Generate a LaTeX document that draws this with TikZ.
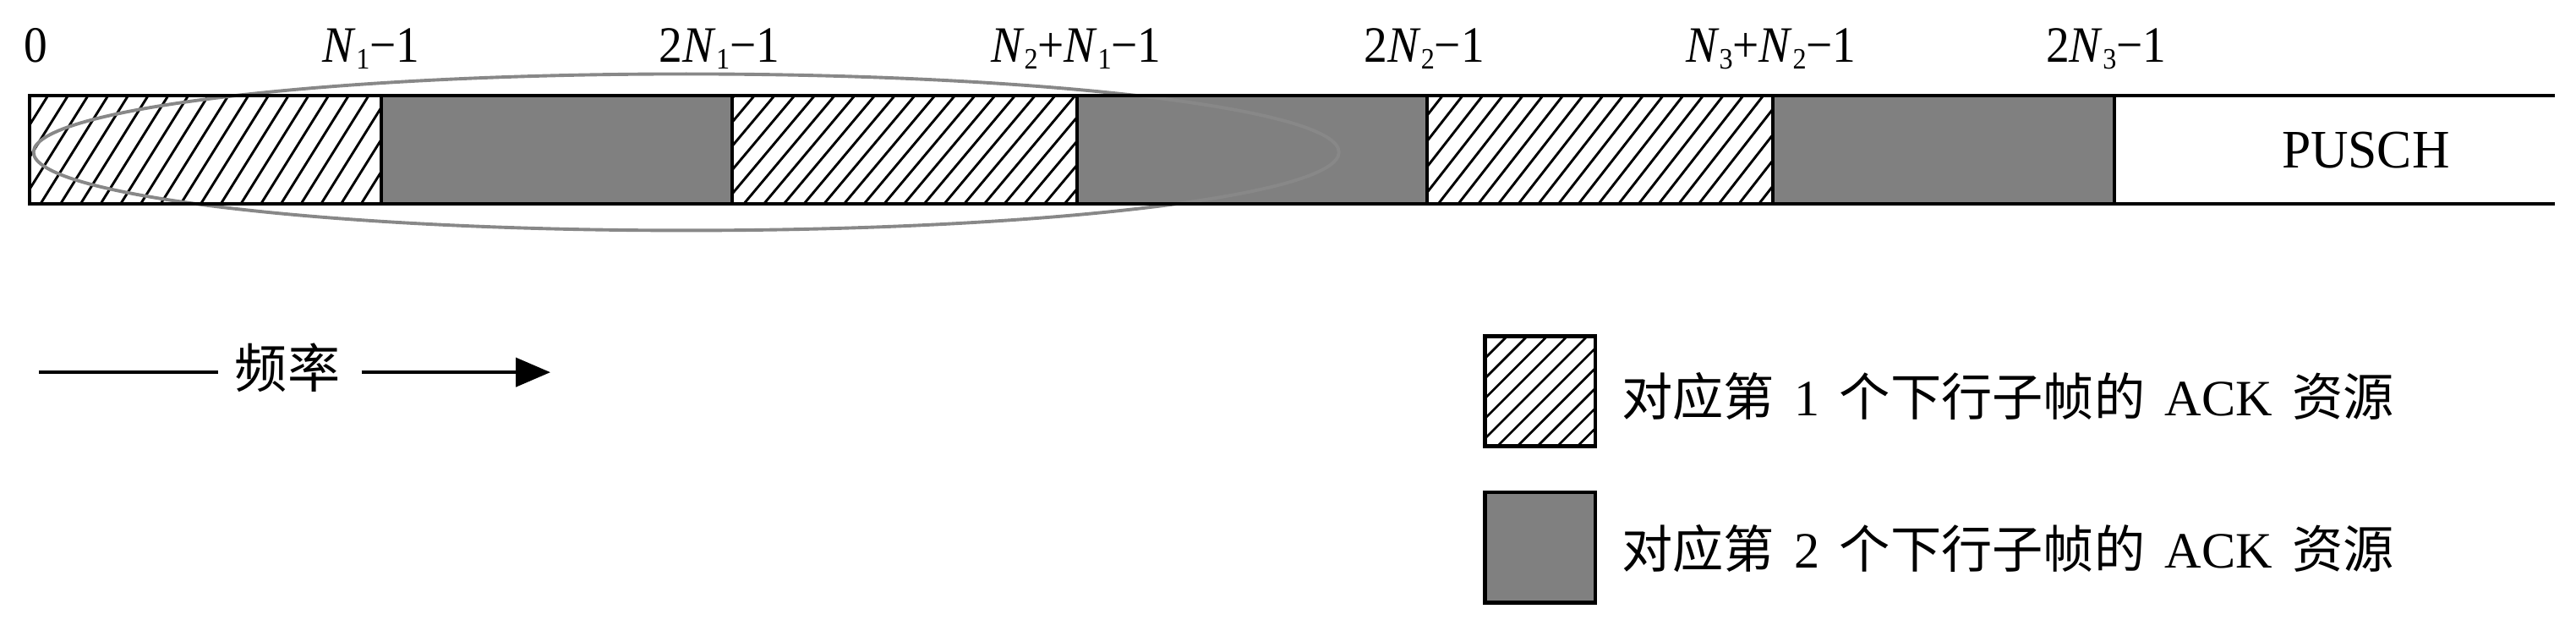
\documentclass[tikz,border=0pt]{standalone}
\usepackage{fontspec}
\usepackage{graphicx}
\setmainfont{Liberation Serif}
\newfontfamily\cjk{Noto Sans CJK SC}
\usetikzlibrary{calc,arrows.meta}
\newcommand\Nsb[1]{\textit{N}\raisebox{-4.5pt}{\fontsize{18}{18}\selectfont #1}}
\newcommand\cond[1]{\scalebox{0.92}[1]{#1}}
\newcommand\gp{\hspace{12pt}}
\definecolor{cellgray}{RGB}{128,128,128}
\definecolor{ellgray}{RGB}{136,136,136}
\tikzset{
  hatchfill/.style 2 args={path picture={
    \coordinate (hsw) at (path picture bounding box.south west);
    \foreach \k in {0,...,32}{
      \draw[line width=#2, line cap=butt] ($(hsw)+(\k*12.2pt-80pt,-2pt)$) -- ++(#1:320pt);
    }}},
  cellbase/.style={draw=none, inner sep=0pt, outer sep=0pt, minimum height=66pt, anchor=center},
  hcell/.style={cellbase, fill=white, hatchfill={#1}{1.5pt}},
  gcell/.style={cellbase, fill=cellgray},
  barline/.style={line width=2pt, black, line cap=butt, line join=miter},
  ellline/.style={line width=2pt, ellgray},
  toplbl/.style={anchor=base, inner sep=0pt, font=\fontsize{31}{31}\selectfont},
  legbox/.style={draw=black, line width=2.4pt, inner sep=0pt, outer sep=0pt, minimum size=67pt},
  legH/.style={legbox, fill=white, hatchfill={45}{1.4pt}},
  legG/.style={legbox, fill=cellgray},
  legtext/.style={anchor=base west, inner sep=0pt, font=\fontsize{31}{31}\selectfont},
  arrline/.style={line width=2pt, black}
}
\begin{document}
\begin{tikzpicture}[x=1pt, y=-1pt]
\useasboundingbox (0,0) rectangle (1568,377);
% cells
\node[hcell=58, minimum width=214pt]   (c1) at (125,91) {};
\node[gcell, minimum width=213.7pt] (c2) at (338.85,91) {};
\node[hcell=50, minimum width=210pt]   (c3) at (550.7,91) {};
\node[gcell, minimum width=212.8pt] (c4) at (762.1,91) {};
\node[hcell=52, minimum width=210.5pt] (c5) at (973.75,91) {};
\node[gcell, minimum width=208pt]   (c6) at (1183,91) {};
\coordinate (barTR) at (1555,58);
\coordinate (barBR) at (1555,124);
% ellipse
\draw[ellline] (417.7,92.6) ellipse [x radius=397.3pt, y radius=47.6pt];
% bar outline
\draw[barline] (barTR) -- (c1.north west) -- (c1.south west) -- (barBR);
\foreach \c in {c1,c2,c3,c4,c5,c6}{
  \draw[barline] (\c.north east) -- (\c.south east);
}
\node[anchor=base, inner sep=0pt, font=\fontsize{33}{33}\selectfont] (pusch) at (1440,101.9) {\scalebox{0.96}[1]{PUSCH}};
% top labels
\node[toplbl] (l0) at (21.9,37.6) {\cond{0}};
\node[toplbl] (l1) at (226,37.6) {\cond{\Nsb{1}−1}};
\node[toplbl] (l2) at (438,37.6) {\cond{2\Nsb{1}−1}};
\node[toplbl] (l3) at (655,37.6) {\cond{\Nsb{2}+\Nsb{1}−1}};
\node[toplbl] (l4) at (867,37.6) {\cond{2\Nsb{2}−1}};
\node[toplbl] (l5) at (1078,37.6) {\cond{\Nsb{3}+\Nsb{2}−1}};
\node[toplbl] (l6) at (1282,37.6) {\cond{2\Nsb{3}−1}};
% frequency arrow
\node[anchor=base, inner sep=0pt, font=\fontsize{32}{32}\selectfont\cjk] (freq) at (175,236) {频率};
\coordinate (a0) at (23.7,226.5);
\coordinate (a1) at (132.8,226.5);
\coordinate (a2) at (220,226.5);
\coordinate (a3) at (335,226.5);
\draw[arrline] (a0) -- (a1);
\draw[arrline, -{Triangle[length=21pt, width=17.5pt]}] (a2) -- (a3);
% legend
\node[legH] (lg1) at (937.5,238) {};
\node[legG] (lg2) at (937.5,333) {};
\node[legtext] (lt1) at (987,253) {{\cjk 对应第}\gp 1\gp{\cjk 个下行子帧的}\gp ACK\gp{\cjk 资源}};
\node[legtext] (lt2) at (987,345.6) {{\cjk 对应第}\gp 2\gp{\cjk 个下行子帧的}\gp ACK\gp{\cjk 资源}};
\end{tikzpicture}
\end{document}
